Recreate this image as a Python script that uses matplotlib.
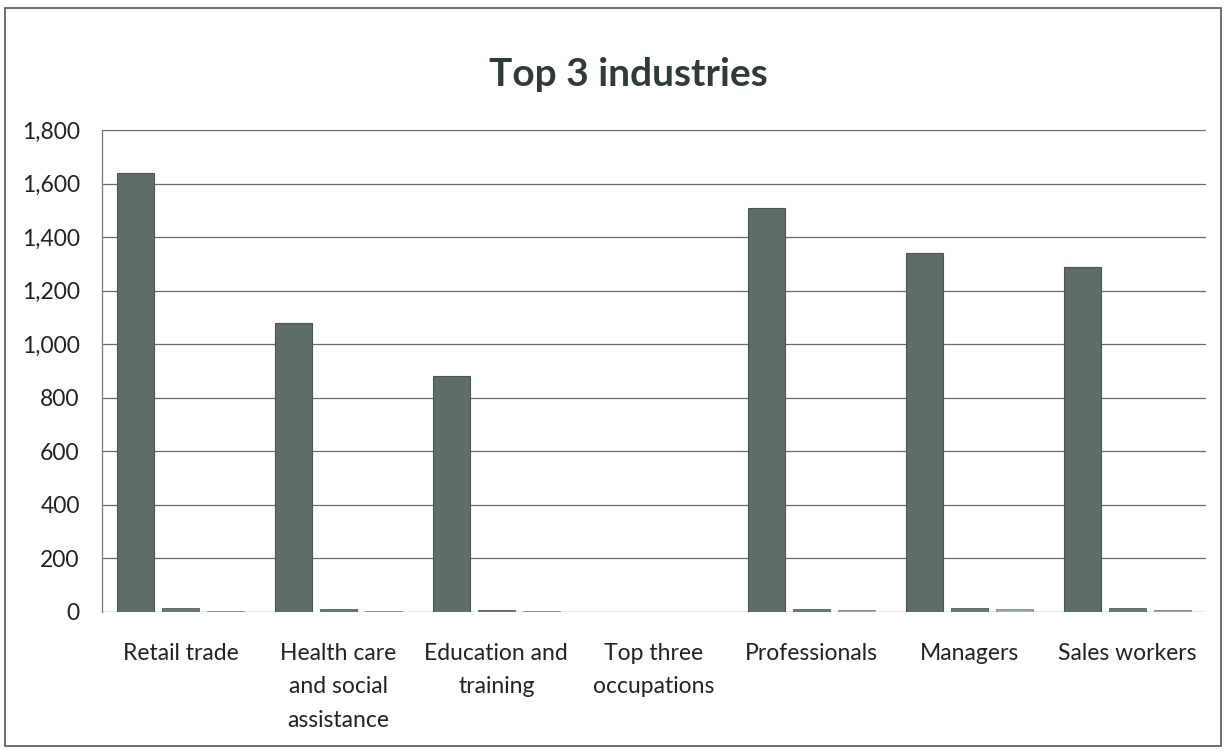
import matplotlib
matplotlib.use("Agg")
import matplotlib.pyplot as plt
import numpy as np
from matplotlib.patches import Rectangle
from matplotlib.ticker import FuncFormatter

categories = ["Retail trade", "Health care\nand social\nassistance", "Education and\ntraining",
              "Top three\noccupations", "Professionals", "Managers", "Sales workers"]
series_main = [1640, 1080, 880, 0, 1510, 1340, 1290]
series_second = [15, 12, 6, 0, 12, 14, 14]
series_third = [5, 4, 5, 0, 8, 12, 8]
y_ticks = [0, 200, 400, 600, 800, 1000, 1200, 1400, 1600, 1800]

plt.rcParams["font.family"] = ["Lato", "DejaVu Sans"]

fig = plt.figure(figsize=(12.27, 7.54), dpi=100)
fig.patch.set_facecolor("white")

# outer chart frame
fig.add_artist(Rectangle((5 / 1227, 8 / 754), 1216 / 1227, 738 / 754,
                         transform=fig.transFigure, fill=False,
                         edgecolor="#555555", linewidth=1.2))

ax = fig.add_axes([102 / 1227, 142 / 754, 1104 / 1227, 482 / 754])
x = np.arange(len(categories))
w = 0.235
step = 0.285
ax.bar(x - step, series_main, width=w, color="#5f6d67", edgecolor="#4a5551", linewidth=0.8, zorder=3)
ax.bar(x, series_second, width=w, color="#6a7872", edgecolor="#55605c", linewidth=0.6, zorder=3)
ax.bar(x + step, series_third, width=w, color="#a0aaa6", edgecolor="#7d8783", linewidth=0.6, zorder=3)

ax.set_xlim(-0.5, len(categories) - 0.5)
ax.set_ylim(0, 1800)
ax.set_yticks(y_ticks)
ax.yaxis.set_major_formatter(FuncFormatter(lambda v, p: f"{int(v):,}"))
ax.grid(axis="y", color="#6a6a6a", linewidth=0.9, zorder=0)
ax.set_axisbelow(True)
for s in ["top", "right", "bottom"]:
    ax.spines[s].set_visible(False)
ax.spines["left"].set_color("#777777")
ax.spines["left"].set_linewidth(0.9)
ax.tick_params(axis="y", length=0, pad=16, labelsize=16.5, labelcolor="#222222")
ax.tick_params(axis="x", length=0, pad=22, labelsize=16.5, labelcolor="#222222")
ax.set_xticks(x)
ax.set_xticklabels(categories, linespacing=1.75, va="top")

fig.text(628 / 1227, 1 - 75 / 754, "Top 3 industries", ha="center", va="center",
         fontsize=28, fontweight="bold", color="#2f3b38")

fig.savefig("out.png", dpi=100, facecolor="white")
